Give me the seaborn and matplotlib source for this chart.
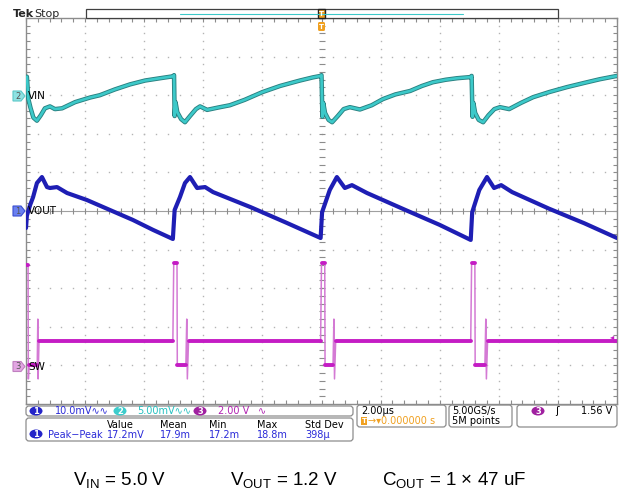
"""
Scope capture: VIN / VOUT ripple and SW node of a buck converter (DCM).
Time base 2 us/div, trigger at screen centre.
"""

import numpy as np
import pandas as pd
import matplotlib
matplotlib.use("Agg")
import matplotlib.pyplot as plt
import matplotlib.ticker as mticker
from matplotlib.patches import FancyBboxPatch, Ellipse, Polygon, Rectangle
import seaborn as sns

# ── Trace data ────────────────────────────────────────────────────────────────
# time in us, trigger at 0
VIN_T = [-9.97, -9.92, -9.85, -9.75, -9.63, -9.5, -9.36, -9.19, -9.02, -8.78,
         -8.34, -7.83, -7.5, -6.99, -6.48, -5.97, -5.46, -5.02,
         -4.99, -4.97, -4.94, -4.88, -4.75, -4.62, -4.45, -4.25, -4.11, -3.87,
         -3.5, -3.1, -2.6, -2.0, -1.4, -0.73, -0.3, -0.03,
         0.0, 0.03, 0.06, 0.12, 0.24, 0.36, 0.55, 0.75, 0.96, 1.3,
         1.7, 2.08, 2.5, 3.0, 3.4, 3.77, 4.2, 4.59, 5.05,
         5.08, 5.11, 5.14, 5.2, 5.32, 5.47, 5.65, 5.85, 6.04, 6.35,
         6.75, 7.16, 7.7, 8.3, 8.9, 9.42, 10.0]
VIN_MV = [2.4, -0.5, -1.6, -2.9, -3.3, -2.6, -1.7, -1.45, -1.8, -1.7,
          -0.9, -0.3, 0.0, 0.75, 1.4, 1.9, 2.2, 2.45,
          2.6, -2.7, -0.9, -2.2, -3.1, -3.5, -2.7, -1.8, -1.45, -1.9,
          -1.6, -1.3, -0.6, 0.4, 1.2, 1.9, 2.3, 2.5,
          2.6, -2.8, -1.0, -2.3, -3.2, -3.5, -2.7, -1.8, -1.55, -1.85,
          -1.3, -0.5, 0.1, 0.55, 1.2, 1.68, 2.0, 2.2, 2.35,
          2.5, -2.8, -1.0, -2.3, -3.2, -3.5, -2.6, -1.8, -1.55, -1.8,
          -1.0, -0.26, 0.4, 1.04, 1.6, 2.07, 2.5]

VOUT_T = [-10.0, -9.97, -9.86, -9.76, -9.63, -9.46, -9.29, -9.19, -8.95, -8.61,
          -7.94, -7.16, -6.38, -5.7, -5.03,
          -4.97, -4.79, -4.62, -4.45, -4.21, -3.94, -3.67, -2.4, -1.2, -0.03,
          0.02, 0.28, 0.52, 0.79, 1.03, 1.54, 2.8, 4.0, 5.05,
          5.1, 5.34, 5.6, 5.84, 6.08, 6.45, 7.7, 8.9, 10.0]
VOUT_MV = [-4.4, -1.2, 1.55, 3.6, 7.25, 8.8, 6.2, 5.96, 6.2, 4.66,
           2.85, 0.26, -2.33, -4.9, -7.25,
           0.26, 3.6, 7.25, 8.8, 5.96, 6.2, 4.9, 1.0, -3.0, -7.0,
           -0.3, 5.44, 8.8, 5.96, 6.7, 4.66, 0.4, -3.6, -7.5,
           -0.3, 5.44, 8.8, 5.96, 6.7, 4.9, 0.6, -3.2, -7.0]

SW_T = [-10.0, -9.93, -9.92, -9.9, -9.62, -9.6, -9.59, -9.56,
        -5.03, -5.0, -4.89, -4.88, -4.59, -4.56, -4.54, -4.5,
        -0.03, 0.0, 0.11, 0.12, 0.39, 0.42, 0.44, 0.48,
        5.05, 5.08, 5.19, 5.2, 5.53, 5.56, 5.58, 5.62, 10.0]
SW_V = [5.2, 5.2, -0.7, 0.0, 0.0, 2.4, -0.7, 1.27,
        1.27, 5.3, 5.3, 0.0, 0.0, 2.4, -0.7, 1.27,
        1.27, 5.3, 5.3, 0.0, 0.0, 2.4, -0.7, 1.27,
        1.27, 5.3, 5.3, 0.0, 0.0, 2.4, -0.7, 1.27, 1.27]

# channel settings (scale per div, ground marker position in div)
VIN_SCALE, VIN_POS = 5.0, 3.0      # mV/div
VOUT_SCALE, VOUT_POS = 10.0, 0.0   # mV/div
SW_SCALE, SW_POS = 2.0, -4.0       # V/div

MEAS_HEAD = ["Value", "Mean", "Min", "Max", "Std Dev"]
MEAS_VALS = ["17.2mV", "17.9m", "17.2m", "18.8m", "398µ"]

# ── Style ─────────────────────────────────────────────────────────────────────
GRID = "#b4b4b4"
FRAME = "#8c8c8c"
C_VIN, C_VIN_DK = "#3cc9c9", "#2a8080"
C_VOUT = "#1e1eb4"
C_SW, C_SW_EDGE = "#c41cc4", "#d47ad4"
C_BLUE_TXT = "#2a2ad8"
ORANGE = "#f0a020"

sns.set_theme(style="white")
plt.rcParams["font.family"] = ["DejaVu Sans"]

fig = plt.figure(figsize=(6.26, 4.99), dpi=100)
fig.patch.set_facecolor("white")
ax = fig.add_axes([26 / 626, 1 - 404 / 499, 591 / 626, 386 / 499])
ax.set_xlim(-10, 10)
ax.set_ylim(-5, 5)

# graticule: dotted division lines + ticked centre lines
minor_x = np.arange(-10, 10.001, 0.4)
minor_y = np.arange(-5, 5.001, 0.2)
for gx in range(-8, 9, 2):
    if gx == 0:
        continue
    ax.plot(np.full_like(minor_y, gx), minor_y, ls="none", marker="s",
            ms=1.0, mec="none", color=GRID, zorder=1)
for gy in range(-4, 5):
    if gy == 0:
        continue
    ax.plot(minor_x, np.full_like(minor_x, gy), ls="none", marker="s",
            ms=1.0, mec="none", color=GRID, zorder=1)
ax.axhline(0, color="#a0a0a0", lw=0.8, zorder=1)
ax.plot(minor_x, np.zeros_like(minor_x), ls="none", marker="|", ms=5,
        color=FRAME, mew=0.8, zorder=1)
ax.plot(np.zeros_like(minor_y), minor_y, ls="none", marker="_", ms=5,
        color=FRAME, mew=0.8, zorder=1)

for spine in ax.spines.values():
    spine.set_edgecolor(FRAME)
    spine.set_linewidth(1.0)
ax.xaxis.set_major_locator(mticker.MultipleLocator(2))
ax.xaxis.set_minor_locator(mticker.MultipleLocator(0.4))
ax.yaxis.set_major_locator(mticker.MultipleLocator(1))
ax.yaxis.set_minor_locator(mticker.MultipleLocator(0.2))
ax.tick_params(which="both", direction="in", length=3, width=0.8, color=FRAME,
               bottom=True, top=True, left=True, right=True,
               labelbottom=False, labelleft=False)


def _to_div(t, vals, scale, pos):
    return pd.DataFrame({"t": t, "div": pos + np.asarray(vals) / scale})


def _slow_segments(df, min_dt=0.05):
    """Keeps only the slow (flat) segments, one unit per segment,
    so the fast edges can be drawn thinner like on the scope."""
    rows = []
    for i in range(len(df) - 1):
        if df.t.iloc[i + 1] - df.t.iloc[i] > min_dt:
            rows.append((df.t.iloc[i], df["div"].iloc[i], i))
            rows.append((df.t.iloc[i + 1], df["div"].iloc[i + 1], i))
    return pd.DataFrame(rows, columns=["t", "div", "seg"])


vin = _to_div(VIN_T, VIN_MV, VIN_SCALE, VIN_POS)
vout = _to_div(VOUT_T, VOUT_MV, VOUT_SCALE, VOUT_POS)
sw = _to_div(SW_T, SW_V, SW_SCALE, SW_POS)

# traces
sns.lineplot(data=sw, x="t", y="div", ax=ax, sort=False, estimator=None,
             color=C_SW_EDGE, linewidth=1.1, zorder=3)
sns.lineplot(data=_slow_segments(sw), x="t", y="div", units="seg", ax=ax,
             sort=False, estimator=None, color=C_SW, linewidth=2.8, zorder=3)
sns.lineplot(data=vout, x="t", y="div", ax=ax, sort=False, estimator=None,
             color=C_VOUT, linewidth=3.0, zorder=4)
sns.lineplot(data=vin, x="t", y="div", ax=ax, sort=False, estimator=None,
             color=C_VIN_DK, linewidth=3.2, zorder=4)
sns.lineplot(data=vin, x="t", y="div", ax=ax, sort=False, estimator=None,
             color=C_VIN, linewidth=1.9, zorder=5)
ax.set_xlabel("")
ax.set_ylabel("")

# ── Screen overlay in pixel coordinates ──────────────────────────────────────
ov = fig.add_axes([0, 0, 1, 1], zorder=5)
ov.set_xlim(0, 626)
ov.set_ylim(499, 0)
ov.axis("off")
ov.patch.set_alpha(0)


def _box(x0, y0, x1, y1, r=3):
    ov.add_patch(FancyBboxPatch((x0, y0), x1 - x0, y1 - y0,
                                boxstyle=f"round,pad=0,rounding_size={r}",
                                fc="none", ec=FRAME, lw=0.9))


def _badge(x, y, num, color):
    ov.add_patch(Ellipse((x, y), 13, 9, fc=color, ec="none"))
    ov.text(x, y + 0.3, num, ha="center", va="center", fontsize=6,
            color="white", fontweight="bold")


def _ground(y, num, fc, ec, label):
    x0 = 13
    pts = [(x0, y - 5), (x0 + 8, y - 5), (x0 + 12, y), (x0 + 8, y + 5), (x0, y + 5)]
    ov.add_patch(Polygon(pts, closed=True, fc=fc, ec=ec, lw=0.8))
    ov.text(x0 + 5, y + 0.3, num, ha="center", va="center", fontsize=6,
            color="#555555")
    ov.text(28, y, label, ha="left", va="center", fontsize=7.5, color="black")


# top bar
ov.text(13, 14, "Tek", ha="left", va="center", fontsize=8, fontweight="bold")
ov.text(34, 14, "Stop", ha="left", va="center", fontsize=8)
ov.add_patch(Rectangle((86, 9), 472, 9, fc="white", ec="#404040", lw=0.9))
ov.plot([180, 463], [13.5, 13.5], color=C_VIN, lw=0.8)
ov.add_patch(Rectangle((318, 9), 7, 9, fc=ORANGE, ec="#202020", lw=1.0))
ov.text(321.5, 13.5, "T", ha="center", va="center", fontsize=5, color="white",
        fontweight="bold")
ov.add_patch(FancyBboxPatch((318, 22), 7, 9, boxstyle="round,pad=0,rounding_size=1.5",
                            fc=ORANGE, ec="none"))
ov.text(321.5, 26.5, "T", ha="center", va="center", fontsize=5, color="white",
        fontweight="bold")

# channel ground markers
_ground(96, "2", "#8ee2e2", "#5cc8c8", "VIN")
_ground(211, "1", "#6a80f0", "#3a4ed0", "VOUT")
_ground(366.5, "3", "#e2a6e2", "#c080c0", "SW")

# trigger level marker on right edge
ov.text(612, 337, "◂", ha="center", va="center", fontsize=6, color=C_SW)

# status boxes
_box(26, 406, 353, 416)
_badge(36, 411, "1", "#2424c8")
ov.text(55, 411.5, "10.0mV∿∿", ha="left", va="center", fontsize=7, color=C_BLUE_TXT)
_badge(120, 411, "2", "#3ccccc")
ov.text(137, 411.5, "5.00mV∿∿", ha="left", va="center", fontsize=7, color="#22c0c0")
_badge(200, 411, "3", "#a020a0")
ov.text(218, 411.5, "2.00 V", ha="left", va="center", fontsize=7, color="#b020b0")
ov.text(258, 411.5, "∿", ha="left", va="center", fontsize=7, color="#b020b0")

_box(26, 418, 353, 441)
meas_x = [107, 160, 209, 257, 305]
for x, head, val in zip(meas_x, MEAS_HEAD, MEAS_VALS):
    ov.text(x, 424.5, head, ha="left", va="center", fontsize=7, color="black")
    ov.text(x, 434.5, val, ha="left", va="center", fontsize=7, color=C_BLUE_TXT)
_badge(36, 434, "1", "#2424c8")
ov.text(48, 434.5, "Peak−Peak", ha="left", va="center", fontsize=7, color=C_BLUE_TXT)

_box(357, 405, 446, 427)
ov.text(361, 411, "2.00µs", ha="left", va="center", fontsize=7, color="black")
ov.add_patch(Rectangle((361, 417), 6, 8, fc=ORANGE, ec="none"))
ov.text(364, 421, "T", ha="center", va="center", fontsize=5, color="white",
        fontweight="bold")
ov.text(368, 421.5, "→▾0.000000 s", ha="left", va="center", fontsize=7, color=ORANGE)

_box(449, 405, 512, 427)
ov.text(452, 411, "5.00GS/s", ha="left", va="center", fontsize=7, color="black")
ov.text(452, 421.5, "5M points", ha="left", va="center", fontsize=7, color="black")

_box(517, 405, 617, 427)
_badge(538, 411, "3", "#a020a0")
ov.text(557, 411, "ʃ", ha="center", va="center", fontsize=7.5, color="black")
ov.text(612, 411.5, "1.56 V", ha="right", va="center", fontsize=7, color="black")

# operating conditions
CAPTIONS = [(73, r"$\mathregular{V_{IN}}$ = 5.0 V"),
            (230, r"$\mathregular{V_{OUT}}$ = 1.2 V"),
            (382, r"$\mathregular{C_{OUT}}$ = 1 × 47 uF")]
for x, txt in CAPTIONS:
    ov.text(x, 485, txt, ha="left", va="baseline", fontsize=13.5,
            family="Liberation Sans", color="black")

fig.savefig("out.png", dpi=100, facecolor="white")
